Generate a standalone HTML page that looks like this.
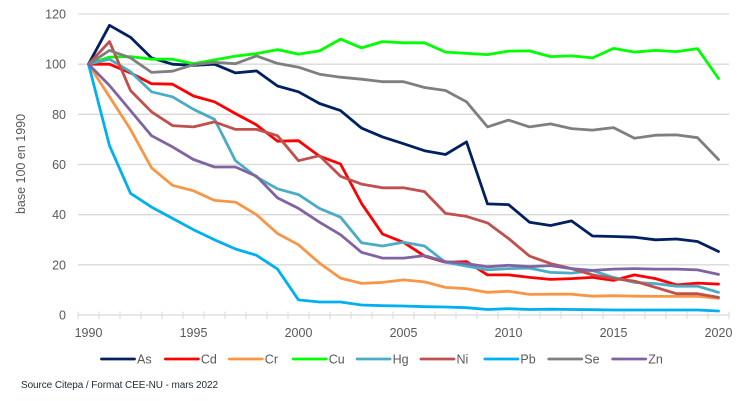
<!DOCTYPE html>
<html>
<head>
<meta charset="utf-8">
<style>
html,body{margin:0;padding:0;background:#fff;width:751px;height:401px;overflow:hidden}
svg{display:block}
text{font-family:"Liberation Sans",sans-serif;fill:#595959}
</style>
</head>
<body>
<svg id="chart" width="751" height="401" viewBox="0 0 751 401" xmlns="http://www.w3.org/2000/svg"></svg>
<script>
const startYear = 1990;
const endYear = 2020;
const yTicks = [0, 20, 40, 60, 80, 100, 120];
const xLabels = [1990, 1995, 2000, 2005, 2010, 2015, 2020];
const names = ['As', 'Cd', 'Cr', 'Cu', 'Hg', 'Ni', 'Pb', 'Se', 'Zn'];
const colors = ['#002060', '#ff0000', '#f79646', '#00ff00', '#4bacc6', '#c0504d', '#00b0f0', '#7f7f7f', '#8064a2'];
const As = [100,115.5,110.7,102.5,100,99.5,100,96.5,97.3,91.3,89,84.3,81.5,74.5,71,68.3,65.5,64,69,44.3,44,37,35.7,37.5,31.5,31.3,31,30,30.3,29.3,25.3];
const Cd = [100,100,96.5,92.2,92,87.3,85,80.3,75.8,69.3,69.5,63.3,60.2,44.5,32.3,29,23.5,21,21.3,16,16,15,14.2,14.5,15,13.8,16,14.5,12,12.7,12.3];
const Cr = [100,87,74,58.7,51.7,49.5,45.7,45,40,32.5,28,20.7,14.7,12.6,13,14,13.2,11,10.5,9,9.5,8.2,8.3,8.3,7.5,7.7,7.5,7.4,7.4,7.5,6.6];
const Cu = [100,102.8,103,102,102,100.2,101.7,103.2,104.2,105.8,104,105.3,110,106.5,109,108.5,108.5,104.8,104.3,103.8,105.2,105.3,103,103.3,102.5,106.3,104.8,105.5,105,106.2,94.3];
const Hg = [100,102,97,89,87,82,78,61.5,55,50.3,48,42.5,39,28.8,27.5,29,27.5,21,19.5,18,18.5,18.7,17,16.7,17.7,15,13,12.5,11.5,11.5,9];
const Ni = [100,109,89.5,81,75.5,75,77,74,74,71.5,61.5,63.5,55.3,52.2,50.7,50.7,49.2,40.5,39.3,36.7,30.5,23.5,20.5,18.5,16,14.5,13.5,11,8.5,8.5,7];
const Pb = [100,67.5,48.5,43,38.5,34,30,26.3,23.8,18.3,6,5.2,5.2,4,3.7,3.6,3.3,3.2,2.9,2.2,2.5,2.2,2.3,2.2,2.1,2,2,2,2,2,1.6];
const Se = [100,105.5,102.5,96.7,97.2,99.8,100.7,100.2,103.3,100.3,98.8,96,94.8,94,93,93,90.7,89.5,85,75,77.7,75,76.2,74.3,73.7,74.7,70.5,71.7,71.8,70.7,62];
const Zn = [100,91.5,81.5,71.5,67,62,59,59,55.3,46.7,42.5,37,32,25,22.7,22.7,23.7,21.3,20.5,19.2,19.8,19.3,19.7,18.5,17.8,18.3,18.5,18.3,18.3,18,16.2];
const seriesValues = [As, Cd, Cr, Cu, Hg, Ni, Pb, Se, Zn];

const svg = document.getElementById('chart');
const NS = 'http://www.w3.org/2000/svg';
const plotLeft = 78, plotRight = 729, plotBottom = 315, plotTop = 14;
const band = (plotRight - plotLeft) / (endYear - startYear + 1);
function xScale(year) { return plotLeft + band * (year - startYear + 0.5); }
function yScale(v) { return plotBottom - (v / 120) * (plotBottom - plotTop); }
function make(tag, attrs, text) {
  const el = document.createElementNS(NS, tag);
  for (const k in attrs) el.setAttribute(k, attrs[k]);
  if (text !== undefined) el.textContent = text;
  svg.appendChild(el);
  return el;
}

yTicks.forEach(function (t) {
  const y = yScale(t);
  const grid = make('line', { x1: plotLeft, x2: plotRight, y1: y, y2: y, stroke: '#d9d9d9', 'stroke-width': 1.3 });
  
  
  const label = make('text', { x: 66, y: y + 4.5, 'text-anchor': 'end', 'font-size': 12.5 }, String(t));
  
  
});

for (let i = 0; i <= endYear - startYear + 1; i++) {
  const x = plotLeft + band * i;
  const tick = make('line', { x1: x, x2: x, y1: 311.5, y2: 319, stroke: '#d9d9d9', 'stroke-width': 1 });
  
  
}

xLabels.forEach(function (yr) {
  const label = make('text', { x: xScale(yr), y: 337, 'text-anchor': 'middle', 'font-size': 12.5 }, String(yr));
  
  
});

seriesValues.forEach(function (vals, s) {
  const pts = vals.map(function (v, i) { return xScale(startYear + i).toFixed(1) + ',' + yScale(v).toFixed(1); }).join(' ');
  const line = make('polyline', { points: pts, fill: 'none', stroke: colors[s], 'stroke-width': 2.8, 'stroke-linejoin': 'round', 'stroke-linecap': 'round' });
  
  
});

names.forEach(function (name, s) {
  const x0 = 101.5 + s * 63.9;
  const swatch = make('line', { x1: x0, x2: x0 + 33, y1: 359, y2: 359, stroke: colors[s], 'stroke-width': 2.8, 'stroke-linecap': 'round' });
  
  
  const label = make('text', { x: x0 + 35.5, y: 363.5, 'font-size': 12.5 }, name);
  
  
});

const yTitle = make('text', { x: 0, y: 0, transform: 'translate(25,164) rotate(-90)', 'text-anchor': 'middle', 'font-size': 12.5 }, 'base 100 en 1990');



const source = make('text', { x: 21, y: 388, 'font-size': 10, textLength: 197, style: 'fill:#1f2a36' }, 'Source Citepa / Format CEE-NU - mars 2022');


</script>
</body>
</html>
